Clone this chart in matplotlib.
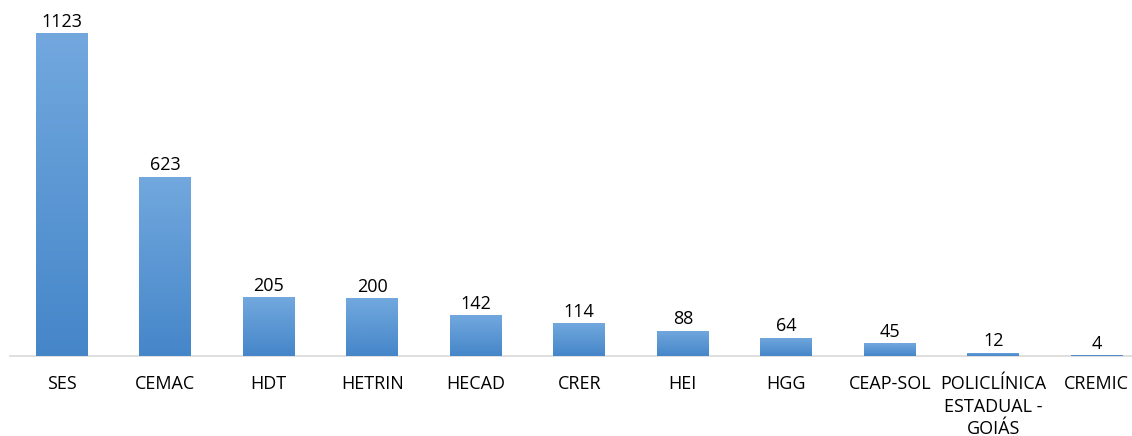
import matplotlib
matplotlib.use("Agg")
import matplotlib.pyplot as plt
import numpy as np
from matplotlib.colors import LinearSegmentedColormap

categories = ["SES", "CEMAC", "HDT", "HETRIN", "HECAD", "CRER", "HEI", "HGG",
              "CEAP-SOL", "POLICLÍNICA\nESTADUAL -\nGOIÁS", "CREMIC"]
values = [1123, 623, 205, 200, 142, 114, 88, 64, 45, 12, 4]

plt.rcParams["font.family"] = ["Open Sans", "DejaVu Sans"]

fig = plt.figure(figsize=(11.32, 4.36), dpi=100)
ax = fig.add_axes([10 / 1132, 80 / 436, 1122 / 1132, 356 / 436])

x = np.arange(len(categories))
bars = ax.bar(x, values, width=0.5, color="#5b9bd5", zorder=2, linewidth=0)

# gradient fill: lighter on top, darker at the bottom
cmap = LinearSegmentedColormap.from_list("grad", ["#4586c9", "#72a8de"])
grad = np.linspace(0, 1, 256).reshape(-1, 1)
for b in bars:
    x0, y0 = b.get_x(), b.get_y()
    w, h = b.get_width(), b.get_height()
    im = ax.imshow(grad, cmap=cmap, origin="lower", aspect="auto",
                   extent=[x0, x0 + w, y0, y0 + h], zorder=3)
    im.set_clip_path(b)

for xi, v in zip(x, values):
    ax.text(xi, v + 8, str(v), ha="center", va="bottom", fontsize=13, color="#000000")

ax.set_xlim(-0.5, -0.5 + 1122 / 103.5)
ax.set_ylim(0, 1237)
ax.set_xticks(x)
ax.set_xticklabels(categories, fontsize=13, linespacing=1.3, color="#000000")
ax.tick_params(axis="x", length=0, pad=14)
ax.set_yticks([])
for s in ["top", "right", "left"]:
    ax.spines[s].set_visible(False)
ax.spines["bottom"].set_color("#d9d9d9")
ax.spines["bottom"].set_linewidth(1.2)

fig.savefig("out.png", dpi=100)
